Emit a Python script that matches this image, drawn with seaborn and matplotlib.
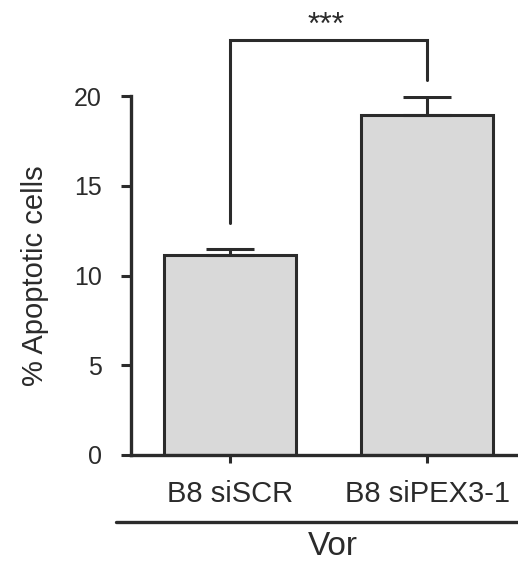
import matplotlib
matplotlib.use("Agg")
import matplotlib.pyplot as plt
from matplotlib.lines import Line2D
import seaborn as sns
import pandas as pd

categories = ["B8 siSCR", "B8 siPEX3-1"]
values = [11.14, 18.92]
sem = [0.32, 1.02]
yticks = [0, 5, 10, 15, 20]
ylabel = "% Apoptotic cells"
group_label = "Vor"
sig_label = "***"

sns.set_style("ticks")
plt.rcParams['font.family'] = ['Liberation Sans', 'DejaVu Sans']

dark = "#2b2b2b"
fig = plt.figure(figsize=(5.18, 5.62), dpi=100)
fig.patch.set_facecolor("white")
ax = fig.add_axes([131/518, 1-455/562, 1-131/518, (455-96)/562])

df = pd.DataFrame({"group": categories, "value": values})
sns.barplot(data=df, x="group", y="value", order=categories, color="#d9d9d9",
            edgecolor=dark, linewidth=2.2, width=0.67, errorbar=None,
            saturation=1, ax=ax)
ax.errorbar(range(len(categories)), values, yerr=[[0]*len(sem), sem], fmt="none",
            ecolor=dark, elinewidth=2.2, capsize=17, capthick=2.2, zorder=3)

ax.set_ylim(0, 20)
ax.set_xlim(-0.5, 1.46)
ax.set_yticks(yticks)
ax.set_xlabel("")
ax.set_ylabel(ylabel, fontsize=21, color=dark, labelpad=18)
ax.tick_params(axis="y", labelsize=18, colors=dark, length=7, width=2.2, pad=14, direction="out")
ax.tick_params(axis="x", labelsize=21, colors=dark, length=6, width=2.2, pad=12, direction="out")
for s in ["top", "right"]:
    ax.spines[s].set_visible(False)
for s in ["left", "bottom"]:
    ax.spines[s].set_linewidth(2.4)
    ax.spines[s].set_color(dark)
ax.set_facecolor("white")

# significance bracket
ax.plot([0, 0, 1, 1], [12.94, 23.12, 23.12, 20.89], color=dark, lw=2.2,
        clip_on=False, solid_joinstyle="miter")
ax.text(0.49, 23.45, sig_label, ha="center", va="baseline", fontsize=23, color=dark,
        clip_on=False)

# group line and label
fig.add_artist(Line2D([116/518, 1.0], [1-521.7/562]*2, color=dark, lw=2.4))
fig.text(333/518, 1-555/562, group_label, ha="center", va="baseline", fontsize=24, color=dark)

fig.savefig("out.png", dpi=100)
